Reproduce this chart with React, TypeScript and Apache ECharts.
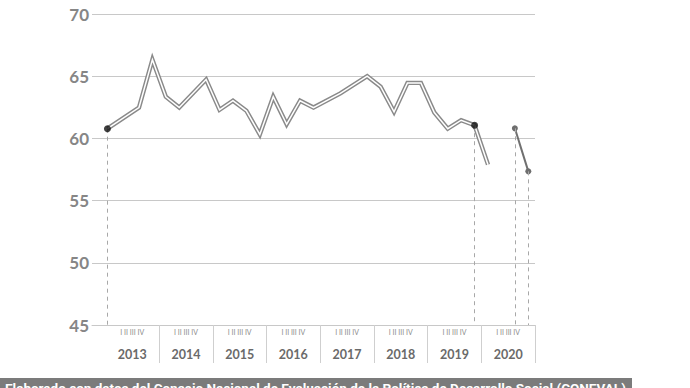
import React, { useEffect, useRef } from "react";
import * as echarts from "echarts";

// ---- data ----
const years = ["2013", "2014", "2015", "2016", "2017", "2018", "2019", "2020"];
const quarterLabel = "I II III IV";
const yTicks = [45, 50, 55, 60, 65, 70];
// quarter position (0 = 2013-I) and value of the main series
const mainX = [-0.35, 2, 3, 4, 5, 7, 8, 9, 10, 11, 12, 13, 14, 15, 17, 19, 20, 21, 22, 23, 24, 25, 26, 27, 28];
const mainY = [60.78, 62.48, 66.33, 63.35, 62.48, 64.73, 62.3, 63.03, 62.22, 60.32, 63.35, 61.14, 63.03, 62.48, 63.62, 65.0, 64.16, 62.13, 64.46, 64.46, 62.08, 60.78, 61.46, 61.06, 57.89];
// second segment (2020 III - IV)
const tailX = [30, 31];
const tailY = [60.81, 57.35];
// highlighted points of the main series (indices)
const blackDotIdx = [0, 23];
const sourceText = "Elaborado con datos del Consejo Nacional de Evaluación de la Política de Desarrollo Social (CONEVAL)";

export default function App() {
  const ref = useRef<HTMLDivElement>(null);
  useEffect(() => {
    if (!ref.current) return;
    const chart = echarts.init(ref.current, null, { renderer: "svg" });
    const mainData = mainX.map((x, i) => [x, mainY[i]]);
    const tailData = tailX.map((x, i) => [x, tailY[i]]);
    const dots = blackDotIdx.map((i) => mainData[i]);
    const yMin = yTicks[0];
    const yMax = yTicks[yTicks.length - 1];
    const dropLines = (pts: number[][]) =>
      pts.map((p) => [{ coord: [p[0], p[1]] }, { coord: [p[0], yMin] }]);
    const sepValues = years.map((_, i) => -0.5 + 4 * (i + 1));
    const labelValues = years.map((_, i) => 1.5 + 4 * i);

    chart.setOption({
      animation: false,
      grid: { left: 92, right: 155, top: 14, bottom: 63, containLabel: false },
      xAxis: {
        type: "value",
        min: -1.5,
        max: 31.5,
        splitLine: { show: false },
        axisLine: { show: true, lineStyle: { color: "#c8c8c8", width: 1 } },
        axisTick: {
          show: true,
          customValues: sepValues,
          length: 38,
          lineStyle: { color: "#cfcfcf", width: 1 },
        },
        axisLabel: {
          customValues: labelValues,
          margin: 0,
          formatter: (v: number) => {
            const y = years[Math.round((v - 1.5) / 4)];
            return `{q|${quarterLabel}}\n{y|${y}}`;
          },
          rich: {
            q: { fontSize: 7, color: "#8c8c8c", lineHeight: 13, fontFamily: "Lato" },
            y: { fontSize: 12.5, fontWeight: "bold", color: "#6a6a6a", lineHeight: 32, fontFamily: "Lato" },
          },
        },
      },
      yAxis: {
        type: "value",
        min: yMin,
        max: yMax,
        interval: 5,
        axisLine: { show: false },
        axisTick: { show: false },
        axisLabel: {
          margin: 3,
          fontSize: 17,
          fontWeight: "bold",
          color: "#868686",
          fontFamily: "Lato",
        },
        splitLine: { show: true, lineStyle: { color: "#c8c8c8", width: 1 } },
      },
      series: [
        {
          type: "line",
          data: mainData,
          symbol: "none",
          lineStyle: { color: "#8a8a8a", width: 4.4, join: "miter" },
          z: 2,
          markLine: {
            silent: true,
            symbol: "none",
            label: { show: false },
            lineStyle: { color: "#a8a8a8", type: [4, 4], width: 1 },
            data: dropLines(dots),
          },
        },
        {
          type: "line",
          data: mainData,
          symbol: "none",
          lineStyle: { color: "#ffffff", width: 1.5, join: "miter" },
          z: 3,
        },
        {
          type: "line",
          data: tailData,
          symbol: "circle",
          symbolSize: 6,
          itemStyle: { color: "#6e6e6e" },
          lineStyle: { color: "#707070", width: 2 },
          z: 4,
          markLine: {
            silent: true,
            symbol: "none",
            label: { show: false },
            lineStyle: { color: "#a8a8a8", type: [4, 4], width: 1 },
            data: dropLines(tailData),
          },
        },
        {
          type: "scatter",
          data: dots,
          symbol: "circle",
          symbolSize: 7,
          itemStyle: { color: "#111111" },
          z: 5,
        },
      ],
      graphic: [
        {
          type: "rect",
          shape: { x: 0, y: 378, width: 632, height: 12 },
          style: { fill: "#7b7b7b" },
          z: 10,
        },
        {
          type: "text",
          x: 5,
          y: 381,
          style: {
            text: sourceText,
            fill: "#ffffff",
            font: "bold 13.5px Roboto",
          },
          z: 11,
        },
      ],
    });
    return () => chart.dispose();
  }, []);
  return (
    <div
      ref={ref}
      style={{ position: "fixed", left: 0, top: 0, width: 690, height: 388, background: "#fff" }}
    />
  );
}
